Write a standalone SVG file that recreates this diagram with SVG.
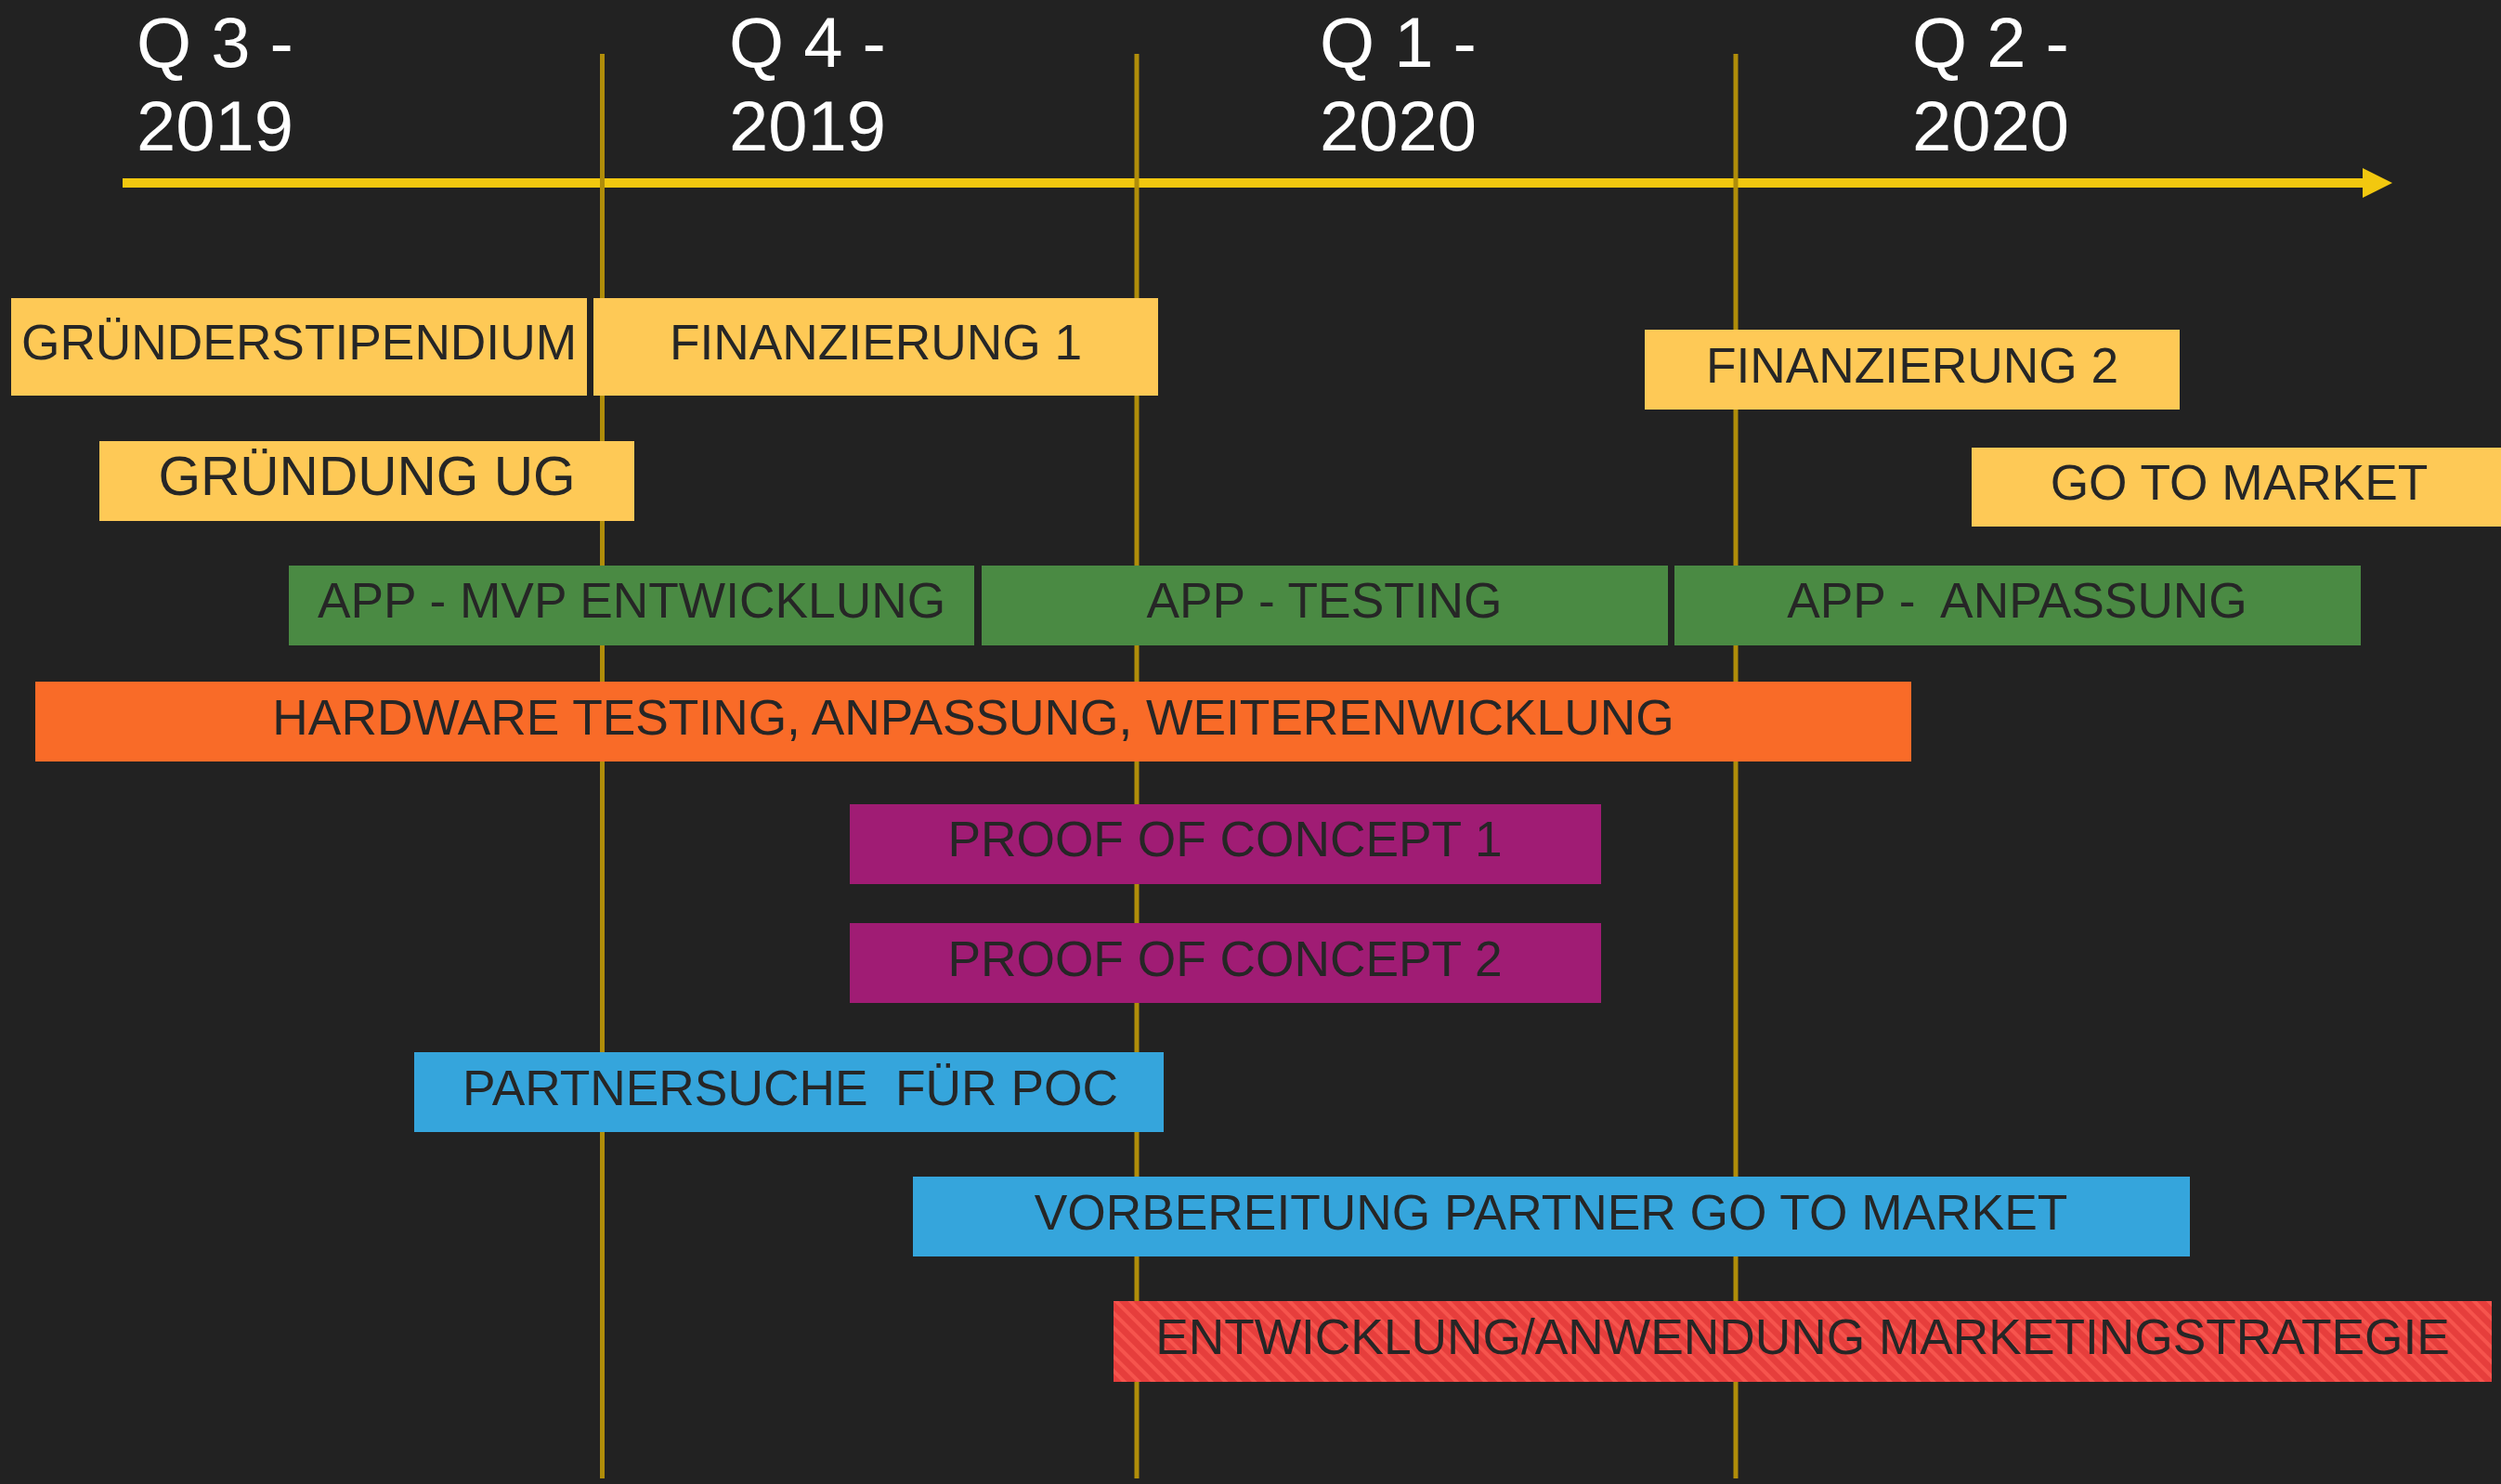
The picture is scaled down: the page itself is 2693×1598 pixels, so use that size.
<svg xmlns="http://www.w3.org/2000/svg" width="2693" height="1598" viewBox="0 0 2693 1598">
<style>
.hdr{font-family:"Liberation Sans",Arial,sans-serif;font-size:76px;fill:#ffffff}
.lbl{font-family:"Liberation Sans",Arial,sans-serif;font-size:53.3px;fill:#262626;text-anchor:middle}
.big{font-size:58.6px}
.yel{fill:#fec956}
.grn{fill:#4a8a43}
.org{fill:#f96b28}
.pur{fill:#a01c74}
.blu{fill:#35a5dc}
.vline{stroke:#b08d0a;stroke-width:5}
</style>
<defs>
<pattern id="stripes" width="11" height="11" patternUnits="userSpaceOnUse" patternTransform="rotate(-45)">
<rect width="11" height="11" fill="#e63e3c"/>
<rect width="4" height="11" fill="#f6544d"/>
</pattern>
</defs>
<rect width="2693" height="1598" fill="#222222"/>
<g id="headers">
<text class="hdr" x="147" y="72">Q 3 -</text>
<text class="hdr" x="147" y="162">2019</text>
<text class="hdr" x="785" y="72">Q 4 -</text>
<text class="hdr" x="785" y="162">2019</text>
<text class="hdr" x="1421" y="72">Q 1 -</text>
<text class="hdr" x="1421" y="162">2020</text>
<text class="hdr" x="2059" y="72">Q 2 -</text>
<text class="hdr" x="2059" y="162">2020</text>
</g>
<g id="connectors">
<rect x="132" y="192" width="2414" height="10" fill="#f2c80f"/>
<polygon points="2544,181 2576,197 2544,213" fill="#f2c80f"/>
<line class="vline" x1="648.5" y1="58" x2="648.5" y2="1592"/>
<line class="vline" x1="1224" y1="58" x2="1224" y2="1592"/>
<line class="vline" x1="1869" y1="58" x2="1869" y2="1592"/>
</g>
<g id="gruenderstipendium"><rect class="yel" x="12" y="321" width="620" height="105"/><text class="lbl" x="322" y="387">GRÜNDERSTIPENDIUM</text></g>
<g id="finanzierung1"><rect class="yel" x="639" y="321" width="608" height="105"/><text class="lbl" x="943" y="387">FINANZIERUNG 1</text></g>
<g id="finanzierung2"><rect class="yel" x="1771" y="355" width="576" height="86"/><text class="lbl" x="2059" y="412">FINANZIERUNG 2</text></g>
<g id="gruendung-ug"><rect class="yel" x="107" y="475" width="576" height="86"/><text class="lbl big" x="395" y="533">GRÜNDUNG UG</text></g>
<g id="go-to-market"><rect class="yel" x="2123" y="482" width="580" height="85"/><text class="lbl" x="2411" y="538">GO TO MARKET</text></g>
<g id="app-mvp"><rect class="grn" x="311" y="609" width="738" height="86"/><text class="lbl" x="680" y="665">APP - MVP ENTWICKLUNG</text></g>
<g id="app-testing"><rect class="grn" x="1057" y="609" width="739" height="86"/><text class="lbl" x="1426" y="665">APP - TESTING</text></g>
<g id="app-anpassung"><rect class="grn" x="1803" y="609" width="739" height="86"/><text class="lbl" x="2172" y="665" xml:space="preserve">APP -  ANPASSUNG</text></g>
<g id="hardware"><rect class="org" x="38" y="734" width="2020" height="86"/><text class="lbl" x="1048" y="791">HARDWARE TESTING, ANPASSUNG, WEITERENWICKLUNG</text></g>
<g id="poc1"><rect class="pur" x="915" y="866" width="809" height="86"/><text class="lbl" x="1319" y="922">PROOF OF CONCEPT 1</text></g>
<g id="poc2"><rect class="pur" x="915" y="994" width="809" height="86"/><text class="lbl" x="1319" y="1051">PROOF OF CONCEPT 2</text></g>
<g id="partnersuche"><rect class="blu" x="446" y="1133" width="807" height="86"/><text class="lbl" x="851" y="1190" xml:space="preserve">PARTNERSUCHE  FÜR POC</text></g>
<g id="vorbereitung"><rect class="blu" x="983" y="1267" width="1375" height="86"/><text class="lbl" x="1670" y="1324">VORBEREITUNG PARTNER GO TO MARKET</text></g>
<g id="marketing"><rect x="1199" y="1401" width="1484" height="87" fill="url(#stripes)"/><text class="lbl" x="1941" y="1458">ENTWICKLUNG/ANWENDUNG MARKETINGSTRATEGIE</text></g>
</svg>
